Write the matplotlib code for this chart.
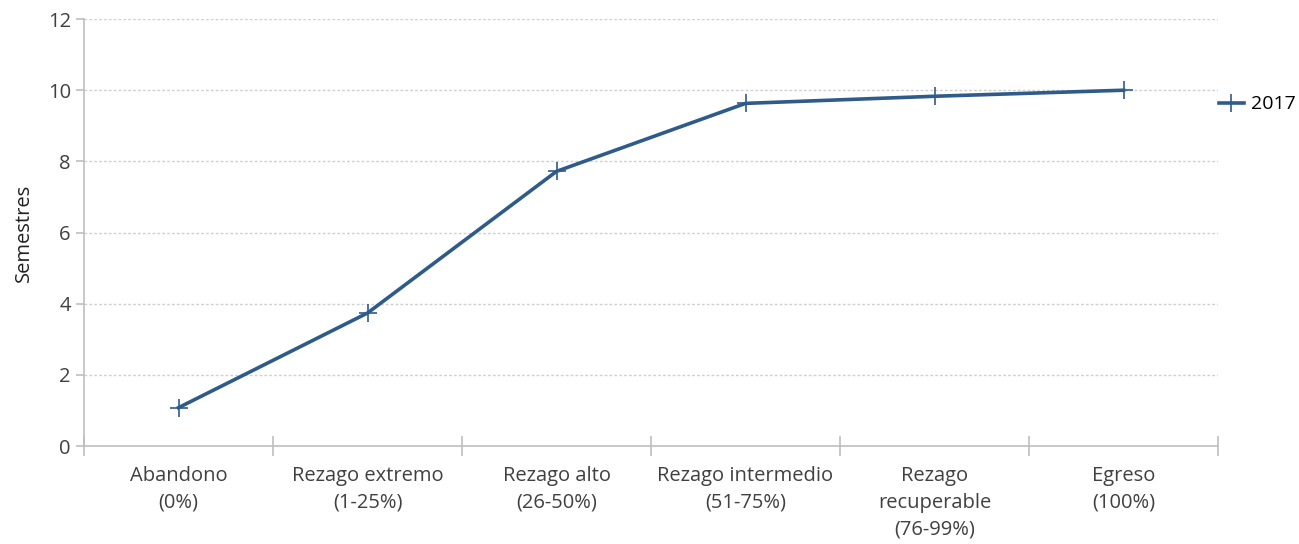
import matplotlib.pyplot as plt
from matplotlib.ticker import FixedLocator

# categories and values
categorias = ["Abandono\n(0%)", "Rezago extremo\n(1-25%)", "Rezago alto\n(26-50%)",
              "Rezago intermedio\n(51-75%)", "Rezago\nrecuperable\n(76-99%)", "Egreso\n(100%)"]
semestres_2017 = [1.08, 3.74, 7.72, 9.63, 9.83, 10.0]
y_ticks = [0, 2, 4, 6, 8, 10, 12]

plt.rcParams['font.family'] = ['Open Sans', 'DejaVu Sans']

fig = plt.figure(figsize=(12.99, 5.44), dpi=100)
ax = fig.add_axes([0.0647, 0.18, 0.873, 0.785])

x = list(range(len(categorias)))
ax.plot(x, semestres_2017, color='#2e5b8a', linewidth=2.6, marker='+',
        markersize=13, markeredgewidth=1.2, label='2017')

ax.set_xlim(-0.5, len(categorias) - 0.5)
ax.set_ylim(0, 12)
ax.set_yticks(y_ticks)
ax.set_xticks(x)
ax.set_xticklabels(categorias, fontsize=14.5, color='#404040', linespacing=1.48)
ax.xaxis.set_minor_locator(FixedLocator([i - 0.5 for i in range(len(categorias) + 1)]))
ax.tick_params(axis='x', which='major', length=0, pad=14)
ax.tick_params(axis='x', which='minor', direction='inout', length=14, color='#bfbfbf', width=1.2)
ax.tick_params(axis='y', length=6, color='#bfbfbf', width=1.2, labelsize=14.5, labelcolor='#404040')
ax.set_ylabel("Semestres", fontsize=14.5, color='#202020', labelpad=10)

ax.grid(axis='y', linestyle=(0, (2, 1.5)), color='#d0d0d0', linewidth=1)
ax.set_axisbelow(True)
for s in ['top', 'right']:
    ax.spines[s].set_visible(False)
for s in ['left', 'bottom']:
    ax.spines[s].set_color('#bfbfbf')
    ax.spines[s].set_linewidth(1.2)

ax.legend(loc='center left', bbox_to_anchor=(0.985, 0.8), frameon=False,
          fontsize=14, handlelength=1.3, handletextpad=0.35)

fig.savefig("out.png", dpi=100)
